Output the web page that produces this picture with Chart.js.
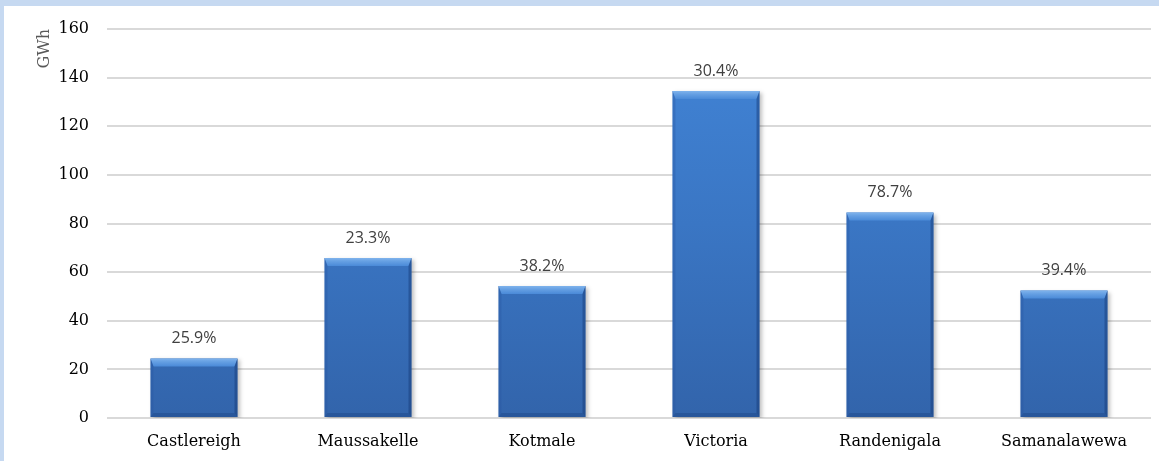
<!DOCTYPE html>
<html>
<head>
<meta charset="utf-8">
<script src="https://cdn.jsdelivr.net/npm/chart.js@4.4.1/dist/chart.umd.min.js"></script>
<style>
  html, body { margin: 0; padding: 0; }
  body { width: 1159px; height: 461px; background: #c6d9f1; position: relative; overflow: hidden; }
  #wrap { position: absolute; left: 4px; top: 6px; width: 1155px; height: 455px; background: #ffffff; }
  canvas { display: block; }
</style>
</head>
<body>
<div id="wrap"><canvas id="c" width="1155" height="455"></canvas></div>
<script>
const categories = ['Castlereigh', 'Maussakelle', 'Kotmale', 'Victoria', 'Randenigala', 'Samanalawewa'];
const energyGWh = [24.5, 65.8, 54.3, 134.5, 84.5, 52.4];
const shareLabels = ['25.9%', '23.3%', '38.2%', '30.4%', '78.7%', '39.4%'];
const yAxisTitle = 'GWh';

const bevelPlugin = {
  id: 'bevel',
  beforeDatasetDraw(chart) {
    const ctx = chart.ctx;
    ctx.save();
    ctx.shadowColor = 'rgba(0,0,0,0.25)';
    ctx.shadowBlur = 4;
    ctx.shadowOffsetX = 2;
    ctx.shadowOffsetY = 2;
  },
  afterDatasetDraw(chart) {
    const ctx = chart.ctx;
    ctx.restore();
    const meta = chart.getDatasetMeta(0);
    meta.data.forEach((bar) => {
      const l = bar.x - bar.width / 2, r = bar.x + bar.width / 2;
      const t = bar.y, b = bar.base;
      const bt = 8, bs = 3, bb = 4;
      ctx.save();
      // top bevel
      let g = ctx.createLinearGradient(0, t, 0, t + bt);
      g.addColorStop(0, '#7fb3ec');
      g.addColorStop(0.4, '#66a0e3');
      g.addColorStop(1, '#4a8ad8');
      ctx.fillStyle = g;
      ctx.beginPath();
      ctx.moveTo(l, t); ctx.lineTo(r, t); ctx.lineTo(r - bs, t + bt); ctx.lineTo(l + bs, t + bt); ctx.closePath();
      ctx.fill();
      // left bevel
      ctx.fillStyle = 'rgba(40,85,160,0.35)';
      ctx.beginPath();
      ctx.moveTo(l, t); ctx.lineTo(l + bs, t + bt); ctx.lineTo(l + bs, b - bb); ctx.lineTo(l, b); ctx.closePath();
      ctx.fill();
      // right bevel
      ctx.fillStyle = 'rgba(20,55,115,0.45)';
      ctx.beginPath();
      ctx.moveTo(r, t); ctx.lineTo(r - bs, t + bt); ctx.lineTo(r - bs, b - bb); ctx.lineTo(r, b); ctx.closePath();
      ctx.fill();
      // bottom bevel
      ctx.fillStyle = 'rgba(20,55,115,0.3)';
      ctx.beginPath();
      ctx.moveTo(l, b); ctx.lineTo(l + bs, b - bb); ctx.lineTo(r - bs, b - bb); ctx.lineTo(r, b); ctx.closePath();
      ctx.fill();
      ctx.restore();
    });
  },
  afterDatasetsDraw(chart) {
    const ctx = chart.ctx;
    const meta = chart.getDatasetMeta(0);
    ctx.save();
    ctx.font = '16px "Open Sans"';
    ctx.fillStyle = '#404040';
    ctx.textAlign = 'center';
    ctx.textBaseline = 'middle';
    meta.data.forEach((bar, i) => {
      ctx.fillText(shareLabels[i], bar.x, bar.y - 20);
    });
    ctx.restore();
  }
};

new Chart(document.getElementById('c'), {
  type: 'bar',
  data: {
    labels: categories,
    datasets: [{
      data: energyGWh,
      backgroundColor(context) {
        const chart = context.chart;
        const area = chart.chartArea;
        if (!area) return '#3f7fd0';
        const g = chart.ctx.createLinearGradient(0, area.bottom, 0, area.top);
        g.addColorStop(0, '#3264ab');
        g.addColorStop(0.5, '#3a76c4');
        g.addColorStop(1, '#4285d7');
        return g;
      },
      borderWidth: 0,
      barPercentage: 0.5,
      categoryPercentage: 1.0
    }]
  },
  options: {
    responsive: false,
    animation: false,
    events: [],
    layout: { padding: { top: 23, right: 8, left: 0, bottom: 0 } },
    plugins: {
      legend: { display: false },
      tooltip: { enabled: false }
    },
    scales: {
      x: {
        grid: { display: false },
        border: { display: false },
        ticks: {
          color: '#000000',
          font: { family: '"DejaVu Serif"', size: 16 },
          padding: 6,
          maxRotation: 0
        },
        afterFit(scale) { scale.height = 43; }
      },
      y: {
        min: 0,
        max: 160,
        ticks: {
          stepSize: 20,
          color: '#000000',
          font: { family: '"DejaVu Serif"', size: 16 },
          padding: 18
        },
        grid: { color: '#d9d9d9', lineWidth: 2, drawTicks: false },
        border: { display: false },
        title: {
          display: true,
          text: yAxisTitle,
          align: 'end',
          color: '#595959',
          font: { family: '"DejaVu Serif"', size: 16 },
          padding: { top: 31, bottom: 0 }
        },
        afterFit(scale) {
          scale.width = 103;
          scale.paddingTop = 10;
          scale.paddingBottom = 10;
        }
      }
    }
  },
  plugins: [bevelPlugin]
});
</script>
</body>
</html>
